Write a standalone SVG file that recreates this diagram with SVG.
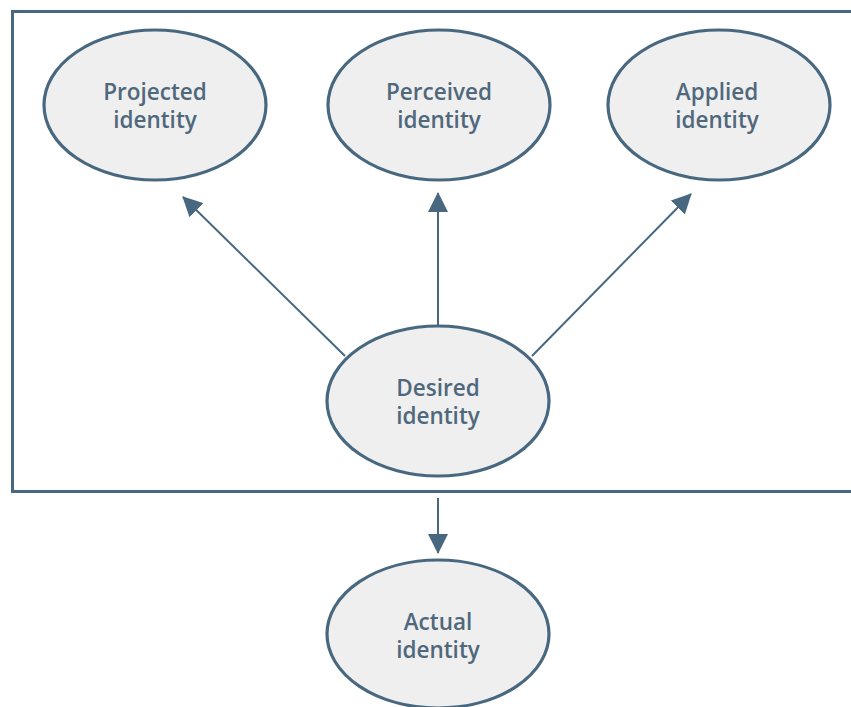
<svg xmlns="http://www.w3.org/2000/svg" width="851" height="707" viewBox="0 0 851 707">
<style>
.n ellipse{fill:#efefef;stroke:#486880;stroke-width:3.2}
.n text{font-family:"Open Sans","DejaVu Sans",sans-serif;font-weight:600;font-size:22.5px;fill:#50687c;text-anchor:middle}
.c line{stroke:#486880;stroke-width:2;fill:none}
</style>
<defs>
<marker id="ah" markerWidth="20" markerHeight="20" refX="19" refY="10" orient="auto" markerUnits="userSpaceOnUse" viewBox="0 0 20 20">
<path d="M0,0 L20,10 L0,20 z" fill="#486880"/>
</marker>
</defs>
<rect x="0" y="0" width="851" height="707" fill="#ffffff"/>
<rect id="frame" x="12.5" y="11.5" width="860" height="480" fill="none" stroke="#486880" stroke-width="3"/>
<g class="c" id="connectors">
<line x1="345" y1="356" x2="183" y2="197" marker-end="url(#ah)"/>
<line x1="438" y1="325" x2="438" y2="193" marker-end="url(#ah)"/>
<line x1="532" y1="356" x2="691" y2="194" marker-end="url(#ah)"/>
<line x1="438" y1="498" x2="438" y2="553" marker-end="url(#ah)"/>
</g>
<g class="n" id="projected"><ellipse cx="155" cy="105" rx="111" ry="75"/><text x="155" y="100">Projected</text><text x="155" y="128">identity</text></g>
<g class="n" id="perceived"><ellipse cx="439" cy="105" rx="111" ry="75"/><text x="439" y="100">Perceived</text><text x="439" y="128">identity</text></g>
<g class="n" id="applied"><ellipse cx="719" cy="105" rx="111" ry="75"/><text x="717" y="100">Applied</text><text x="717" y="128">identity</text></g>
<g class="n" id="desired"><ellipse cx="438" cy="401" rx="111" ry="75"/><text x="438" y="396">Desired</text><text x="438" y="424">identity</text></g>
<g class="n" id="actual"><ellipse cx="438" cy="634" rx="111" ry="74"/><text x="438" y="630">Actual</text><text x="438" y="658">identity</text></g>
</svg>
